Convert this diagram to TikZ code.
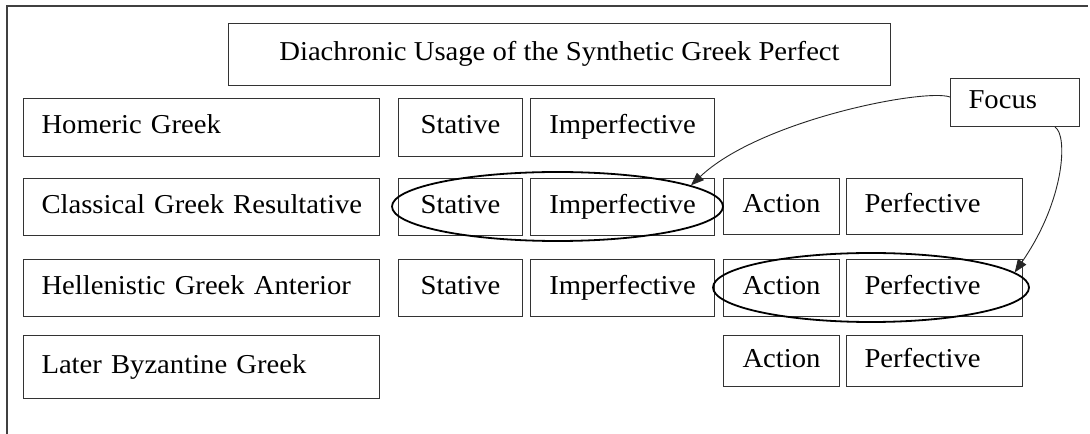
\documentclass[tikz,border=0pt]{standalone}
\usepackage{fontspec}
\setmainfont[FakeStretch=1.05]{Liberation Serif}
\usetikzlibrary{shapes.geometric,arrows.meta}
\begin{document}
\begin{tikzpicture}[x=1bp,y=-1bp,
  box/.style={draw=black!80,line width=1bp,inner sep=0pt,anchor=north west,
    text height=19bp,text depth=6bp,
    font=\fontsize{27.4}{30}\selectfont},
  lbox/.style={box,align=left,text width=#1,execute at begin node={\hspace*{18bp}}},
  ring/.style={draw=black,line width=1.8bp,ellipse,inner sep=0pt},
  pointer/.style={draw=black!85,line width=0.9bp,-{Triangle[length=13bp,width=10bp]}},
  frame/.style={draw=black!75,line width=1.3bp}]
\useasboundingbox (0,0) rectangle (1090,434);

% outer frame (only the left and top edges show)
\coordinate (fb) at (7,434);
\coordinate (fc) at (7,6);
\coordinate (fr) at (1088,6);
\draw[frame] (fb) -- (fc) -- (fr);

% title
\node[box,minimum width=662bp,minimum height=62bp] (title) at (228,23)
  {Diachronic Usage of the Synthetic Greek Perfect};

% period labels
\node[lbox=356bp,minimum height=58bp] (homeric) at (23,98) {Homeric Greek};
\node[lbox=356bp,minimum height=57bp] (classical) at (23,178) {Classical Greek Resultative};
\node[lbox=356bp,minimum height=57bp] (hellen) at (23,259) {Hellenistic Greek Anterior};
\node[lbox=356bp,minimum height=63bp] (byz) at (23,335) {Later Byzantine Greek};

% row 1
\node[box,minimum width=124bp,minimum height=58bp] (st1) at (398,98) {Stative};
\node[box,minimum width=184bp,minimum height=58bp] (imp1) at (530,98) {Imperfective};

% row 2
\node[box,minimum width=124bp,minimum height=57bp] (st2) at (398,178) {Stative};
\node[box,minimum width=184bp,minimum height=57bp] (imp2) at (530,178) {Imperfective};
\node[box,minimum width=116bp,minimum height=56bp] (act2) at (723,178) {Action};
\node[lbox=176bp,minimum height=56bp] (perf2) at (846,178) {Perfective};

% row 3
\node[box,minimum width=124bp,minimum height=57bp] (st3) at (398,259) {Stative};
\node[box,minimum width=184bp,minimum height=57bp] (imp3) at (530,259) {Imperfective};
\node[box,minimum width=116bp,minimum height=57bp] (act3) at (723,259) {Action};
\node[lbox=176bp,minimum height=57bp] (perf3) at (846,259) {Perfective};

% row 4
\node[box,minimum width=116bp,minimum height=51bp] (act4) at (723,335) {Action};
\node[lbox=176bp,minimum height=51bp] (perf4) at (846,335) {Perfective};

% focus label
\node[lbox=129bp,minimum height=48bp] (focus) at (950,78) {Focus};

% focus rings
\node[ring,minimum width=331bp,minimum height=69bp] (e1) at (557.5,206.5) {};
\node[ring,minimum width=316bp,minimum height=69bp] (e2) at (871,287.5) {};

% focus pointers
\draw[pointer] (focus.west |- 950,97) .. controls (925,88) and (760,120) .. (e1.9);
\draw[pointer] (focus.south -| 1055,126) .. controls (1068,135) and (1065,200) .. (e2.6);
\end{tikzpicture}
\end{document}
